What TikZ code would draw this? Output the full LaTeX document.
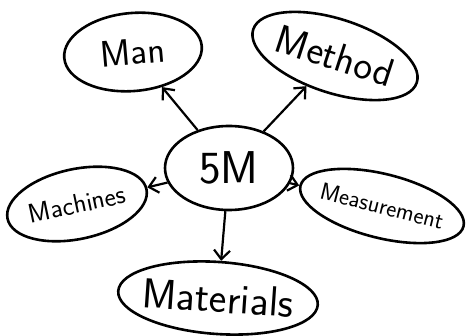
\documentclass[tikz,border=0pt]{standalone}
\usepackage{tikz}
\usetikzlibrary{arrows.meta,shapes.geometric}

\begin{document}
\begin{tikzpicture}[x=1pt,y=1pt,
    bubble/.style={draw, ellipse, line width=2.6pt, inner sep=-30pt, font=\sffamily},
    link/.style={line width=2.2pt, -{Straight Barb[length=9pt,width=16pt,line width=2.2pt]}}]
  \useasboundingbox (0,0) rectangle (466,335);
  \node[bubble, minimum width=128pt, minimum height=84pt, font=\sffamily\fontsize{46}{46}\selectfont] (five) at (229,167) {5M};
  \node[bubble, minimum width=138pt, minimum height=78pt, rotate=5, font=\sffamily\fontsize{37}{37}\selectfont] (man) at (133,283) {Man};
  \node[bubble, minimum width=172pt, minimum height=74pt, rotate=-18, font=\sffamily\fontsize{40}{40}\selectfont] (method) at (335,279) {Method};
  \node[bubble, minimum width=142pt, minimum height=70pt, rotate=12, font=\sffamily\fontsize{27}{27}\selectfont] (machines) at (77,131) {Machines};
  \node[bubble, minimum width=168pt, minimum height=64pt, rotate=-14, font=\sffamily\fontsize{24}{24}\selectfont] (measure) at (382,129) {Measurement};
  \node[bubble, minimum width=200pt, minimum height=72pt, rotate=-4, font=\sffamily\fontsize{42}{42}\selectfont] (materials) at (218,37) {Materials};
  % arrows out of the middle
  \draw[link] (five) -- (man);
  \draw[link] (five) -- (method);
  \draw[link] (five) -- (machines);
  \draw[link] (five) -- (measure);
  \draw[link] (five) -- (materials);
\end{tikzpicture}
\end{document}
